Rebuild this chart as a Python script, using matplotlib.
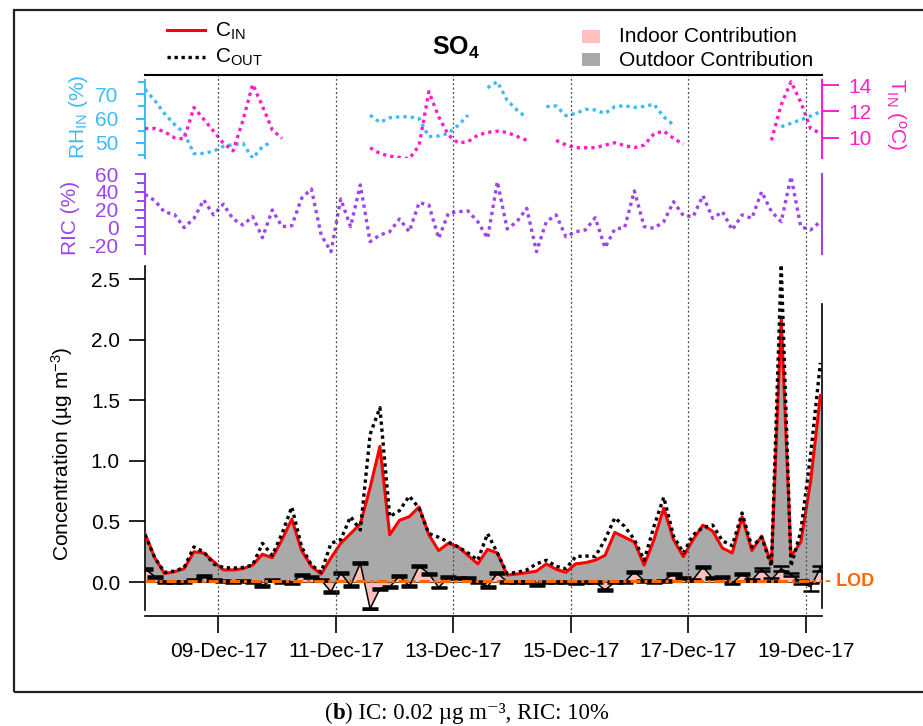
import numpy as np
import pandas as pd
import matplotlib
matplotlib.use('Agg')
import matplotlib.pyplot as plt
import matplotlib.dates as mdates
import matplotlib.transforms as mtransforms
from matplotlib.lines import Line2D
from matplotlib.patches import Rectangle

plt.rcParams['font.family'] = ['Liberation Sans', 'DejaVu Sans']
plt.rcParams['mathtext.fontset'] = 'custom'
plt.rcParams['mathtext.rm'] = 'Liberation Sans'
plt.rcParams['mathtext.it'] = 'Liberation Sans:italic'
plt.rcParams['mathtext.bf'] = 'Liberation Sans:bold'
plt.rcParams['axes.unicode_minus'] = False

# ---------------- data ----------------
times = pd.date_range('2017-12-07 18:00', periods=70, freq='4h')
date_ticks = pd.date_range('2017-12-09', '2017-12-19', freq='2D')
date_labels = [d.strftime('%d-%b-%y') for d in date_ticks]

c_in = [0.40, 0.20, 0.07, 0.085, 0.11, 0.25, 0.24, 0.17, 0.10, 0.10,
        0.11, 0.14, 0.23, 0.20, 0.35, 0.52, 0.26, 0.13, 0.065, 0.20,
        0.32, 0.40, 0.48, 0.78, 1.12, 0.39, 0.51, 0.54, 0.62, 0.39,
        0.26, 0.32, 0.29, 0.22, 0.15, 0.27, 0.24, 0.058, 0.066, 0.077,
        0.09, 0.15, 0.105, 0.08, 0.15, 0.16, 0.18, 0.22, 0.41, 0.37,
        0.33, 0.14, 0.35, 0.61, 0.35, 0.21, 0.35, 0.47, 0.42, 0.28,
        0.24, 0.54, 0.26, 0.38, 0.15, 2.18, 0.21, 0.33, 0.83, 1.54]

c_out = [0.39, 0.20, 0.08, 0.09, 0.12, 0.29, 0.25, 0.15, 0.12, 0.115,
         0.12, 0.14, 0.32, 0.22, 0.40, 0.62, 0.29, 0.14, 0.08, 0.32,
         0.35, 0.54, 0.43, 1.22, 1.44, 0.54, 0.59, 0.71, 0.61, 0.40,
         0.37, 0.33, 0.29, 0.24, 0.18, 0.40, 0.24, 0.07, 0.08, 0.10,
         0.15, 0.18, 0.13, 0.11, 0.21, 0.215, 0.21, 0.35, 0.53, 0.46,
         0.35, 0.18, 0.46, 0.70, 0.38, 0.24, 0.39, 0.45, 0.47, 0.34,
         0.30, 0.57, 0.29, 0.37, 0.13, 2.62, 0.13, 0.42, 1.05, 1.81]

ic = [0.11, 0.045, 0.0, 0.0, 0.0, 0.015, 0.05, 0.015, 0.01, 0.0,
      0.01, 0.0, -0.03, 0.02, 0.0, -0.005, 0.06, 0.04, 0.015, -0.08,
      0.075, -0.03, 0.155, -0.22, -0.055, -0.04, 0.05, -0.035, 0.13, 0.07,
      -0.045, 0.04, 0.035, 0.03, 0.0, -0.04, 0.075, 0.0, 0.0, 0.0,
      -0.025, 0.0, 0.0, 0.0, -0.005, 0.0, 0.0, -0.066, 0.0, 0.0,
      0.085, 0.01, 0.0, 0.01, 0.07, 0.03, 0.02, 0.125, 0.03, 0.045,
      -0.01, 0.065, 0.015, 0.105, 0.02, 0.11, 0.06, 0.0, -0.04, 0.115]

ic_err = [0.008] * 63 + [0.012, 0.012, 0.02, 0.012, 0.015, 0.03, 0.02]

nan = np.nan
rh_in = [72, 67.5, 62, 57.6, 54, 45.5, 45.6, 46.5, 48.5, 49.2,
         49.8, 43.6, 48.4, 50.4, nan, nan, nan, nan, nan, nan,
         nan, nan, nan, 61.4, 58.4, 60.3, 60.7, 60.7, 60.0, 52.5,
         52.8, 53.9, 57.2, 61.4, nan, 72.7, 75.2, 67.5, 63.5, 60.3,
         nan, 64.9, 65.2, 61.2, 62.1, 63.8, 63.5, 62.1, 64.9, 65.3,
         64.6, 65.0, 65.9, 60.7, 57.3, nan, nan, nan, nan, nan,
         nan, nan, nan, nan, nan, 56.6, 58.0, 59.5, 61.0, 62.8]

t_in = [10.7, 10.7, 10.45, 10.0, 9.9, 12.3, 11.4, 10.5, 9.6, 9.0,
        11.3, 14.05, 12.4, 10.6, 9.95, nan, nan, nan, nan, nan,
        nan, nan, nan, 9.24, 8.8, 8.6, 8.5, 8.4, 9.4, 13.5,
        11.6, 10.2, 9.6, 9.7, 10.2, 10.4, 10.5, 10.4, 10.1, 9.8,
        nan, nan, 9.8, 9.45, 9.24, 9.24, 9.24, 9.44, 9.62, 9.4,
        9.25, 9.44, 10.3, 10.5, 9.95, 9.5, nan, nan, nan, nan,
        nan, nan, nan, nan, 9.8, 12.5, 14.25, 12.7, 10.7, 10.33]

ric = [37, 30, 17, 14.6, -0.4, 10, 30.8, 14, 26, 9.4,
       2.6, 12, -11.7, 19.5, 0.7, 1.8, 32.7, 43.2, -8.7, -27.5,
       31.9, 0.7, 47.7, -16.2, -8.7, -5, 9.4, -5, 27.7, 25.1,
       -12.4, 15.8, 17.6, 18.4, 6.3, -12.4, 51.4, -1.9, 6.3, 21.4,
       -27.5, 6.3, 13.9, -10.6, -5, -3, 10.8, -23, -1.9, -0.4,
       40.9, 0.7, -1.1, 6.3, 28.8, 13.1, 12, 35.6, 10.1, 17.6,
       -3, 13.9, 10.1, 40.1, 17.6, 6.3, 57, 0.7, -3, 6.3]

lod = 0.005

# ---------------- styling ----------------
BLUE = '#3DBBF5'
MAGENTA = '#FF1ECB'
PURPLE = '#9A45EE'
ORANGE = '#FF6600'
GREY = '#A9A9A9'
PINK = '#FFBFBF'

W, H = 923, 726
fig = plt.figure(figsize=(W / 100, H / 100), dpi=100)

def fx(px):
    return px / W

def fy(py):
    return 1 - py / H

L, R = 145, 822
x = mdates.date2num(times.to_pydatetime())
xt = mdates.date2num(date_ticks.to_pydatetime())
xlim = (mdates.date2num(pd.Timestamp('2017-12-07 18:00').to_pydatetime()),
        mdates.date2num(pd.Timestamp('2017-12-19 06:40').to_pydatetime()))

# background axes: title rule + vertical grid lines
ax_bg = fig.add_axes([fx(L), fy(614), fx(R) - fx(L), (614 - 75) / H], zorder=5)
ax_bg.patch.set_alpha(0)
ax_bg.set_xlim(xlim)
ax_bg.set_ylim(0, 1)
for s in ['left', 'right', 'bottom']:
    ax_bg.spines[s].set_visible(False)
ax_bg.spines['top'].set_linewidth(1.5)
ax_bg.set_yticks([])
ax_bg.set_xticks(xt)
ax_bg.tick_params(axis='x', length=0, labelbottom=False)
ax_bg.grid(axis='x', color='#444444', lw=0.9, ls=(0, (1.5, 2)))

# main axes
ax = fig.add_axes([fx(L), fy(610), fx(R) - fx(L), 344 / H], zorder=4)
ax.patch.set_alpha(0)
ax.fill_between(x, 0, c_in, color=GREY, lw=0, zorder=1)
ax.fill_between(x, 0, ic, color=PINK, lw=0, zorder=2)
ax.axhline(0, color='#555555', lw=0.8, zorder=2.5)
ax.errorbar(x, ic, yerr=ic_err, color='black', lw=1.1, elinewidth=1.1,
            capsize=5.5, capthick=1.8, zorder=4)
ax.plot(x, c_in, color='red', lw=2.2, zorder=4.5)
ax.plot(x, c_out, color='black', lw=2.4, dashes=(1, 1.1), zorder=5)
ax.axhline(lod, color=ORANGE, lw=2.2, dashes=(3.3, 1.3, 1, 1.3), zorder=6)
ax.text(1.005, lod, '- LOD', transform=mtransforms.blended_transform_factory(ax.transAxes, ax.transData),
        color=ORANGE, fontsize=13, fontweight='bold', va='center', ha='left')

ax.set_xlim(xlim)
ax.set_ylim(-0.231, 2.61)
ax.set_yticks([0, 0.5, 1.0, 1.5, 2.0, 2.5])
ax.set_yticklabels(['%.1f' % v for v in [0, 0.5, 1.0, 1.5, 2.0, 2.5]])
ax.set_xticks(xt)
ax.set_xticklabels(date_labels)
ax.spines['top'].set_visible(False)
ax.spines['bottom'].set_position(('outward', 4))
ax.spines['right'].set_bounds(-0.215, 2.3)
for s in ['left', 'bottom', 'right']:
    ax.spines[s].set_linewidth(1.2)
ax.tick_params(axis='y', direction='out', length=11.5, width=1.2, pad=6.5, labelsize=15, right=False)
ax.tick_params(axis='x', direction='out', length=12.2, width=1.2, pad=7, labelsize=15)

# RH / T axes
ax_rh = fig.add_axes([fx(L), fy(158), fx(R) - fx(L), 78 / H], zorder=3)
ax_rh.patch.set_alpha(0)
ax_rh.plot(x, rh_in, color=BLUE, lw=2.4, dashes=(1, 1.2))
ax_rh.set_xlim(xlim)
ax_rh.set_ylim(43.7, 75.9)
ax_rh.set_yticks([50, 60, 70])
ax_rh.set_yticks([45, 55, 65, 75], minor=True)
ax_rh.set_xticks([])
for s in ['top', 'right', 'bottom']:
    ax_rh.spines[s].set_visible(False)
ax_rh.spines['left'].set_color(BLUE)
ax_rh.spines['left'].set_linewidth(1.5)
ax_rh.tick_params(axis='y', which='major', colors=BLUE, length=6.5, width=1.4, pad=12.7, labelsize=15)
ax_rh.tick_params(axis='y', which='minor', colors=BLUE, length=5, width=1.4)

ax_t = ax_rh.twinx()
ax_t.patch.set_alpha(0)
ax_t.plot(x, t_in, color=MAGENTA, lw=2.4, dashes=(1, 1.2))
ax_t.set_xlim(xlim)
ax_t.set_ylim(8.46, 14.38)
ax_t.set_yticks([10, 12, 14])
for s in ['top', 'left', 'bottom']:
    ax_t.spines[s].set_visible(False)
ax_t.spines['right'].set_color(MAGENTA)
ax_t.spines['right'].set_linewidth(1.5)
ax_t.tick_params(axis='y', colors=MAGENTA, length=12, width=1.4, pad=7.2, labelsize=15)

# RIC axes
ax_ric = fig.add_axes([fx(L), fy(254), fx(R) - fx(L), 80 / H], zorder=3)
ax_ric.patch.set_alpha(0)
ax_ric.plot(x, ric, color=PURPLE, lw=2.4, dashes=(1, 1.2))
ax_ric.set_xlim(xlim)
ax_ric.set_ylim(-30.1, 60)
ax_ric.set_yticks([-20, 0, 20, 40, 60])
ax_ric.set_yticks([-10, 10, 30, 50], minor=True)
ax_ric.set_xticks([])
for s in ['top', 'bottom']:
    ax_ric.spines[s].set_visible(False)
for s in ['left', 'right']:
    ax_ric.spines[s].set_color(PURPLE)
    ax_ric.spines[s].set_linewidth(1.5)
ax_ric.tick_params(axis='y', which='major', colors=PURPLE, length=7.5, width=1.4, pad=11.5, labelsize=15)
ax_ric.tick_params(axis='y', which='minor', colors=PURPLE, length=5.5, width=1.4)

# axis labels
fig.text(fx(62.5), fy(454), r'Concentration (µg m$^{-3}$)', rotation=90,
         ha='center', va='center', fontsize=15)
fig.text(fx(78), fy(117), r'RH$_{\mathrm{IN}}$ (%)', rotation=90,
         ha='center', va='center', fontsize=15, color=BLUE)
fig.text(fx(70), fy(217.5), 'RIC (%)', rotation=90,
         ha='center', va='center', fontsize=15, color=PURPLE)
fig.text(fx(896), fy(114.5), r'T$_{\mathrm{IN}}$ ($^{\mathrm{o}}$C)', rotation=270,
         ha='center', va='center', fontsize=15, color=MAGENTA)

# title
fig.text(fx(456), fy(55), r'SO$_{\mathbf{4}}$', ha='center', va='baseline',
         fontsize=18, fontweight='bold')

# legends
fig.add_artist(Line2D([fx(167), fx(205)], [fy(30), fy(30)], color='red', lw=2.2))
fig.add_artist(Line2D([fx(167), fx(205)], [fy(57), fy(57)], color='black', lw=2.4, dashes=(1, 1.1)))
fig.text(fx(215), fy(37), r'C$_{\mathrm{IN}}$', ha='left', va='baseline', fontsize=15)
fig.text(fx(215), fy(63), r'C$_{\mathrm{OUT}}$', ha='left', va='baseline', fontsize=15)

fig.add_artist(Rectangle((fx(581.7), fy(42.7)), fx(600) - fx(581.7), 12.7 / H,
                         transform=fig.transFigure, color=PINK, lw=0))
fig.add_artist(Rectangle((fx(581.7), fy(66)), fx(600) - fx(581.7), 13 / H,
                         transform=fig.transFigure, color=GREY, lw=0))
fig.text(fx(619.3), fy(41.7), 'Indoor Contribution', ha='left', va='baseline', fontsize=15)
fig.text(fx(619.3), fy(65.7), 'Outdoor Contribution', ha='left', va='baseline', fontsize=15)

# outer frame
fig.add_artist(Rectangle((fx(14), fy(692)), 1.2, (692 - 10) / H,
                         transform=fig.transFigure, fill=False, ec='#222222', lw=1.6))

# caption (centred as a whole)
serif = ['Liberation Serif', 'DejaVu Serif']
cap_fs = 16.5
cap_base = fy(719)
t1 = fig.text(0, cap_base, '(', ha='left', va='baseline', fontsize=cap_fs, family=serif)
t2 = fig.text(0, cap_base, 'b', ha='left', va='baseline', fontsize=cap_fs, fontweight='bold', family=serif)
t3 = fig.text(0, cap_base, ') IC: 0.02 µg m\u207b\u00b3, RIC: 10%', ha='left', va='baseline',
              fontsize=cap_fs, family=serif)
fig.canvas.draw()
r = fig.canvas.get_renderer()
w1 = t1.get_window_extent(r).width
w2 = t2.get_window_extent(r).width
w3 = t3.get_window_extent(r).width
start = 467 - (w1 + w2 + w3) / 2
t1.set_x(start / W)
t2.set_x((start + w1) / W)
t3.set_x((start + w1 + w2) / W)

fig.savefig('out.png', dpi=100)
